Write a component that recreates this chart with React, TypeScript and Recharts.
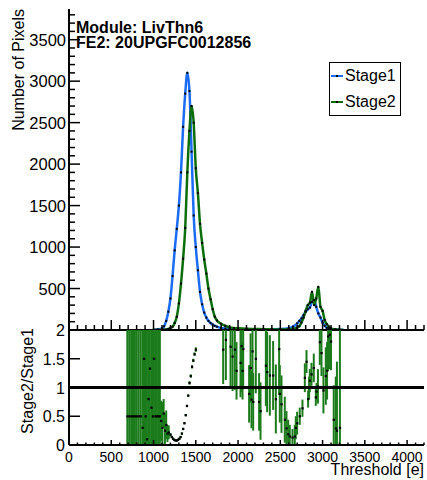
import React from "react"
import { ComposedChart, LineChart, Line, Scatter, XAxis, YAxis, ErrorBar, ReferenceLine, Legend } from "recharts"

const FONT = "'Liberation Sans', Arial, Helvetica, sans-serif"
const BLUE = "#1b6cf2"
const GREEN = "#0b6e0b"
const BAR_GREEN = "#1c7c1c"

const moduleName = "Module: LivThn6"
const feName = "FE2: 20UPGFC0012856"
const seriesNames = ["Stage1", "Stage2"]
const seriesColors = [BLUE, GREEN]

// threshold bins [e] for the pixel counts
const thresholds = [
  1000, 1050, 1100, 1125, 1150, 1175, 1200, 1225, 1250, 1275, 1300, 1325, 1350, 1375, 1400, 1425,
  1450, 1475, 1500, 1525, 1550, 1575, 1600, 1625, 1650, 1675, 1700, 1725, 1750,
  1800, 1850, 1900, 1950, 2000,
  2100, 2200, 2300, 2400, 2500, 2600,
  2650, 2700,
  2725, 2750, 2775, 2800, 2825, 2850, 2875, 2900, 2925, 2950, 2975, 3000, 3025, 3050, 3075, 3100,
  3150, 3200, 3250,
]
const stage1Counts = [
  3, 8, 20, 45, 110, 220, 380, 650, 960, 1220, 1500, 1900, 2450, 2850, 3100, 2880,
  2150, 1380, 1000, 720, 460, 310, 210, 150, 110, 85, 65, 50, 40,
  25, 18, 14, 12, 10,
  8, 8, 9, 10, 12, 20,
  40, 80,
  110, 140, 180, 220, 250, 270, 340, 360, 280, 200, 150, 90, 50, 25, 15, 10,
  5, 2, 0,
]
const stage2Counts = [
  0, 0, 2, 4, 6, 12, 22, 40, 85, 160, 320, 560, 860, 1230, 1900, 2400,
  2700, 2500, 1950, 1650, 1280, 1050, 850, 680, 500, 370, 250, 160, 115,
  75, 50, 32, 24, 20,
  14, 12, 10, 8, 6, 8,
  15, 30,
  45, 90, 150, 230, 300, 330, 460, 300, 380, 520, 280, 230, 120, 70, 40, 20,
  8, 3, 0,
]

// Stage2/Stage1 ratio points with their uncertainties
const ratioThresholds = [
  690, 712, 735, 757, 780, 802, 825, 848, 870, 887, 905, 922, 940, 957, 975, 992, 1005, 1022, 1040, 1058, 1075,
  1090, 1105, 1120, 1135, 1150, 1165, 1180,
  1200, 1215, 1230, 1245, 1260, 1275, 1290, 1305, 1320, 1335, 1350, 1365, 1380, 1395, 1410, 1425, 1440, 1455, 1470, 1485, 1500,
  1824, 1856, 1911, 1935, 1962, 1982, 2029, 2041, 2053, 2061, 2131, 2148, 2159, 2171, 2179, 2210, 2249, 2266,
  2329, 2344, 2376, 2415, 2447, 2486, 2494, 2514, 2553, 2573, 2593, 2612, 2644, 2671, 2683, 2699,
  2730, 2762, 2790, 2810, 2829, 2841, 2849, 2869, 2896, 2920, 2928, 2945, 2967, 2987, 3010, 3038, 3053, 3065,
  3085, 3100, 3132, 3156, 3170, 3205,
]
const ratioValues = [
  0.5, 0.5, 0.5, 0.5, 0.5, 0.5, 0.5, 0.5, 0.3, 1.5, 0.5, 0.1, 0.8, 1.33, 0.65, 0.5, 1.5, 0.5, 0.5, 0.5, 0.5,
  0.42, 0.3, 0.55, 0.25, 0.35, 0.2, 0.22,
  0.18, 0.14, 0.11, 0.09, 0.08, 0.08, 0.09, 0.11, 0.14, 0.2, 0.28, 0.38, 0.52, 0.68, 0.86, 1.08, 1.2, 1.36, 1.47, 1.58, 1.66,
  1.66, 1.83, 1.71, 1.54, 1.66, 1.29, 1.43, 1.72, 1.29, 1.67, 0.89, 1.34, 0.79, 1.63, 0.75, 1.5, 0.75, 0.59,
  1.38, 1.27, 1.21, 1.21, 0.8, 1.67, 0.89, 0.71, 0.44, 0.29, 0.19, 0.15, 0.13, 0.15, 0.3, 0.38,
  0.5, 0.64, 1.17, 1.45, 0.8, 0.99, 1.12, 1.23, 1.34, 0.83, 0.93, 1.02, 1.79, 1.6, 0.95, 1.2, 1.29, 1.89,
  1.92, 1.8, 0.44, 0.29, 0.25, 0.3,
]
const ratioErrors = [
  2.5, 2.5, 2.5, 2.5, 2.5, 2.5, 2.5, 2.5, 2.5, 2.5, 2.5, 2.5, 2.5, 2.5, 2.5, 2.5, 2.5, 2.5, 2.5, 2.5, 2.5,
  0.35, 0.45, 0.25, 0.3, 0.25, 0.15, 0.12,
  0.03, 0.02, 0.02, 0.02, 0.02, 0.02, 0.02, 0.02, 0.02, 0.02, 0.02, 0.02, 0.02, 0.02, 0.02, 0.03, 0.03, 0.03, 0.03, 0.03, 0.04,
  0.6, 0.7, 0.7, 0.6, 0.7, 0.5, 0.6, 0.8, 0.5, 0.7, 0.5, 0.6, 0.5, 0.7, 0.5, 0.6, 0.5, 0.5,
  0.7, 0.7, 0.7, 0.6, 0.6, 0.8, 0.5, 0.5, 0.4, 0.3, 0.25, 0.2, 0.15, 0.2, 0.2, 0.2,
  0.15, 0.15, 0.25, 0.2, 0.15, 0.2, 0.2, 0.2, 0.25, 0.15, 0.15, 0.3, 0.4, 0.4, 0.4, 0.5, 0.5, 0.6,
  0.6, 0.5, 0.6, 0.9, 1.2, 2.5,
]

const RATIO_MIN = 0
const RATIO_MAX = 2

const xTicks = Array.from({ length: 43 }, (_, i) => i * 100)
const countTicks = Array.from({ length: 39 }, (_, i) => i * 100)
const ratioTicks = [0, 0.5, 1, 1.5, 2]

const countData = thresholds.map((t, i) => ({ t, stage1: stage1Counts[i], stage2: stage2Counts[i] }))
// error bars are cut at the frame of the ratio pad, like ROOT does
const ratioData = ratioThresholds.map((t, i) => {
  const r = ratioValues[i]
  const e = ratioErrors[i]
  return { t, ratio: r, err: [Math.min(e, r - RATIO_MIN), Math.min(e, RATIO_MAX - r)] }
})

const axisLine = { stroke: "#000", strokeWidth: 2 }

// ROOT style ticks: drawn inward from the axis
const TopXTick = ({ x, y, payload }: any) => {
  const major = payload.value % 500 === 0
  return <line x1={x} x2={x} y1={y} y2={y - (major ? 10 : 5)} stroke="#000" strokeWidth={1.5} />
}

const BottomXTick = ({ x, y, payload }: any) => {
  const v = payload.value
  const major = v % 500 === 0
  return (
    <g>
      <line x1={x} x2={x} y1={y} y2={y - (major ? 5 : 2.5)} stroke="#000" strokeWidth={1.5} />
      {major && v <= 4000 && (
        <text x={x} y={y + 17} textAnchor="middle" fontSize={14} fontFamily={FONT} fill="#000">
          {v}
        </text>
      )}
    </g>
  )
}

const CountYTick = ({ x, y, payload }: any) => {
  const v = payload.value
  const major = v % 500 === 0
  return (
    <g>
      <line x1={x} x2={x + (major ? 11 : 6)} y1={y} y2={y} stroke="#000" strokeWidth={1.5} />
      {major && v > 0 && (
        <text x={x - 3} y={y + 6} textAnchor="end" fontSize={16.5} fontFamily={FONT} fill="#000">
          {v}
        </text>
      )}
    </g>
  )
}

const RatioYTick = ({ x, y, payload }: any) => (
  <g>
    <line x1={x} x2={x + 11} y1={y} y2={y} stroke="#000" strokeWidth={1.5} />
    <text x={x - 4} y={y + 6} textAnchor="end" fontSize={16} fontFamily={FONT} fill="#000">
      {payload.value}
    </text>
  </g>
)

const pointMark = (p: any) => (
  <rect key={`p-${p.index}`} x={p.cx - 1} y={p.cy - 1} width={2} height={2} fill="#000" />
)

const ratioMark = (p: any) => <rect x={p.cx - 1} y={p.cy - 1} width={2.2} height={2.2} fill="#000" />

const LegendBox = () => (
  <div
    style={{
      width: 70,
      height: 52,
      border: "1px solid #000",
      background: "#fff",
      fontFamily: FONT,
      fontSize: 16,
      color: "#000",
    }}
  >
    {seriesNames.map((name, i) => (
      <div key={name} style={{ display: "flex", alignItems: "center", height: 26, lineHeight: "26px" }}>
        <svg width={15} height={10} style={{ display: "block" }}>
          <line x1={1} x2={13} y1={5} y2={5} stroke={seriesColors[i]} strokeWidth={2} />
          <rect x={6} y={4} width={2} height={2} fill="#000" />
        </svg>
        <span>{name}</span>
      </div>
    ))}
  </div>
)

export default function App() {
  return (
    <div style={{ position: "absolute", left: 0, top: 0, width: 427, height: 480, background: "#fff" }}>
      <div style={{ position: "absolute", left: 0, top: 0 }}>
        <LineChart width={427} height={340} data={countData} margin={{ top: 9, right: 3, left: 0, bottom: 0 }}>
          <XAxis
            dataKey="t"
            type="number"
            domain={[0, 4200]}
            ticks={xTicks}
            interval={0}
            tickSize={0}
            tickMargin={0}
            tickLine={false}
            axisLine={axisLine}
            tick={TopXTick}
            height={10}
            allowDataOverflow
          />
          <XAxis xAxisId="frame" orientation="top" height={0} tick={false} tickLine={false} axisLine={axisLine} />
          <YAxis
            type="number"
            domain={[0, 3870]}
            ticks={countTicks}
            interval={0}
            tickSize={0}
            tickMargin={0}
            tickLine={false}
            axisLine={axisLine}
            tick={CountYTick}
            width={69}
            allowDataOverflow
            label={{
              content: ({ viewBox }: any) => (
                <text
                  x={viewBox.x + 24}
                  y={viewBox.y}
                  transform={`rotate(-90, ${viewBox.x + 24}, ${viewBox.y})`}
                  textAnchor="end"
                  fontSize={16}
                  fontFamily={FONT}
                  fill="#000"
                >
                  Number of Pixels
                </text>
              ),
            }}
          />
          <YAxis yAxisId="frame" orientation="right" width={0} domain={[0, 1]} tick={false} tickLine={false} axisLine={axisLine} />
          <Legend
            layout="vertical"
            align="center"
            verticalAlign="middle"
            wrapperStyle={{ left: 329, top: 62, width: 72, height: 54 }}
            content={() => <LegendBox />}
          />
          <Line
            type="monotone"
            dataKey="stage1"
            name={seriesNames[0]}
            stroke={BLUE}
            strokeWidth={2.5}
            dot={pointMark}
            activeDot={false}
            isAnimationActive={false}
          />
          <Line
            type="monotone"
            dataKey="stage2"
            name={seriesNames[1]}
            stroke={GREEN}
            strokeWidth={2.5}
            dot={pointMark}
            activeDot={false}
            isAnimationActive={false}
          />
        </LineChart>
      </div>

      <div style={{ position: "absolute", left: 0, top: 320 }}>
        <ComposedChart width={427} height={160} data={ratioData} margin={{ top: 10, right: 3, left: 0, bottom: 0 }}>
          <XAxis
            dataKey="t"
            type="number"
            domain={[0, 4200]}
            ticks={xTicks}
            interval={0}
            tickSize={0}
            tickMargin={0}
            tickLine={false}
            axisLine={axisLine}
            tick={BottomXTick}
            height={35}
            allowDataOverflow
            label={{
              content: ({ viewBox }: any) => (
                <text
                  x={viewBox.x + viewBox.width}
                  y={viewBox.y + 30}
                  textAnchor="end"
                  fontSize={16}
                  fontFamily={FONT}
                  fill="#000"
                >
                  Threshold [e]
                </text>
              ),
            }}
          />
          <XAxis xAxisId="frame" orientation="top" height={0} tick={false} tickLine={false} axisLine={axisLine} />
          <YAxis
            type="number"
            domain={[RATIO_MIN, RATIO_MAX]}
            ticks={ratioTicks}
            interval={0}
            tickSize={0}
            tickMargin={0}
            tickLine={false}
            axisLine={axisLine}
            tick={RatioYTick}
            width={69}
            allowDataOverflow
            label={{
              content: ({ viewBox }: any) => (
                <text
                  x={viewBox.x + 33}
                  y={viewBox.y - 2}
                  transform={`rotate(-90, ${viewBox.x + 33}, ${viewBox.y - 2})`}
                  textAnchor="end"
                  fontSize={16}
                  fontFamily={FONT}
                  fill="#000"
                >
                  Stage2/Stage1
                </text>
              ),
            }}
          />
          <YAxis yAxisId="frame" orientation="right" width={0} domain={[0, 1]} tick={false} tickLine={false} axisLine={axisLine} />
          <Scatter dataKey="ratio" shape={ratioMark} isAnimationActive={false}>
            <ErrorBar dataKey="err" direction="y" width={0} stroke={BAR_GREEN} strokeWidth={2} isAnimationActive={false} />
          </Scatter>
          <ReferenceLine y={1} stroke="#000" strokeWidth={3} />
        </ComposedChart>
      </div>

      <svg width={427} height={60} style={{ position: "absolute", left: 0, top: 0, pointerEvents: "none" }}>
        <text x={76} y={33} fontSize={16} fontWeight="bold" fontFamily={FONT} fill="#000">
          {moduleName}
        </text>
        <text x={76} y={48} fontSize={16} fontWeight="bold" fontFamily={FONT} fill="#000">
          {feName}
        </text>
      </svg>
    </div>
  )
}
